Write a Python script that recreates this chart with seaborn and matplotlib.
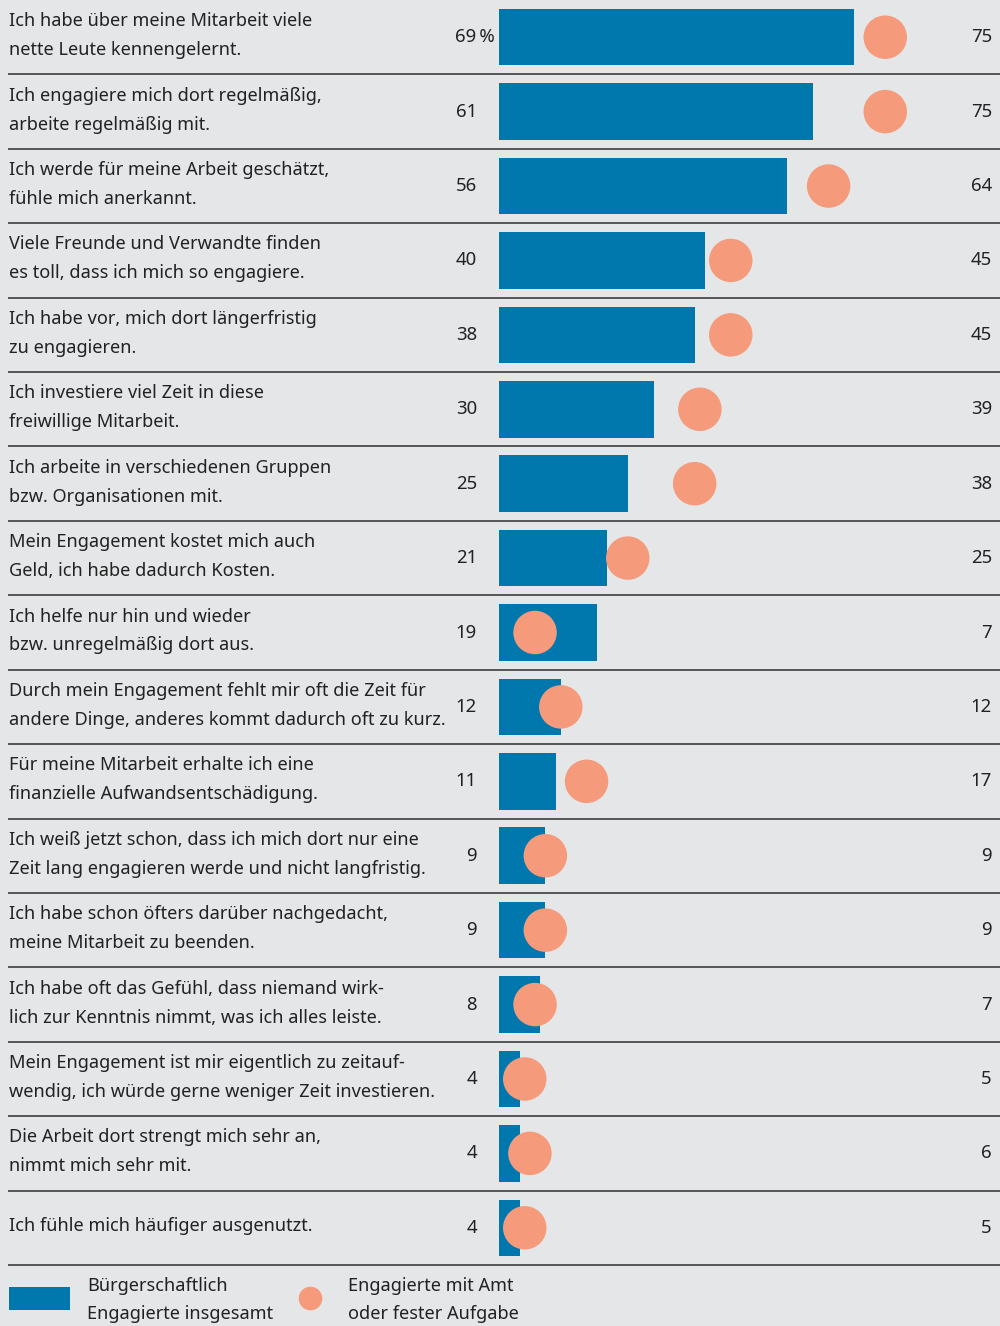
import matplotlib
matplotlib.use("Agg")
import matplotlib.pyplot as plt
import seaborn as sns
import pandas as pd
from matplotlib.patches import Rectangle
from matplotlib.lines import Line2D

labels = [
    "Ich habe über meine Mitarbeit viele\nnette Leute kennengelernt.",
    "Ich engagiere mich dort regelmäßig,\narbeite regelmäßig mit.",
    "Ich werde für meine Arbeit geschätzt,\nfühle mich anerkannt.",
    "Viele Freunde und Verwandte finden\nes toll, dass ich mich so engagiere.",
    "Ich habe vor, mich dort längerfristig\nzu engagieren.",
    "Ich investiere viel Zeit in diese\nfreiwillige Mitarbeit.",
    "Ich arbeite in verschiedenen Gruppen\nbzw. Organisationen mit.",
    "Mein Engagement kostet mich auch\nGeld, ich habe dadurch Kosten.",
    "Ich helfe nur hin und wieder\nbzw. unregelmäßig dort aus.",
    "Durch mein Engagement fehlt mir oft die Zeit für\nandere Dinge, anderes kommt dadurch oft zu kurz.",
    "Für meine Mitarbeit erhalte ich eine\nfinanzielle Aufwandsentschädigung.",
    "Ich weiß jetzt schon, dass ich mich dort nur eine\nZeit lang engagieren werde und nicht langfristig.",
    "Ich habe schon öfters darüber nachgedacht,\nmeine Mitarbeit zu beenden.",
    "Ich habe oft das Gefühl, dass niemand wirk-\nlich zur Kenntnis nimmt, was ich alles leiste.",
    "Mein Engagement ist mir eigentlich zu zeitauf-\nwendig, ich würde gerne weniger Zeit investieren.",
    "Die Arbeit dort strengt mich sehr an,\nnimmt mich sehr mit.",
    "Ich fühle mich häufiger ausgenutzt.",
]
total = [69, 61, 56, 40, 38, 30, 25, 21, 19, 12, 11, 9, 9, 8, 4, 4, 4]
amt = [75, 75, 64, 45, 45, 39, 38, 25, 7, 12, 17, 9, 9, 7, 5, 6, 5]
legend_labels = ["Bürgerschaftlich\nEngagierte insgesamt", "Engagierte mit Amt\noder fester Aufgabe"]

BG = "#e5e6e8"
BLUE = "#0077ad"
SALMON = "#f59a7b"
TXT = "#222222"
FONT = ["Noto Sans", "DejaVu Sans"]
FS = 13.1
FSN = 13.4
LS = 1.78

W, H = 1000, 1326
fig = plt.figure(figsize=(W / 100, H / 100), dpi=100, facecolor=BG)
plt.rcParams["font.family"] = FONT

top_h = 1265
ax = fig.add_axes([0, (H - top_h) / H, 1, top_h / H])
ax.set_facecolor(BG)

n = len(labels)
df = pd.DataFrame({"item": labels, "total": total, "amt": amt, "pos": list(range(n))})

scale = 5.15  # px per unit
x0 = 499
xl = -x0 / scale
xr = (W - x0) / scale

sns.barplot(data=df, x="total", y="item", order=labels, orient="h", color=BLUE,
            width=0.76, saturation=1, ax=ax, linewidth=0)
sns.scatterplot(data=df, x="amt", y="pos", color=SALMON, s=980, edgecolor="none",
                linewidth=0, ax=ax, zorder=5, legend=False)

ax.set_xlim(xl, xr)
ax.set_ylim(n - 0.5, -0.5)
ax.set_xticks([])
ax.set_yticks([])
ax.set_xlabel("")
ax.set_ylabel("")
for s in ax.spines.values():
    s.set_visible(False)

def px(x):
    return xl + x / scale

for i in range(n):
    ax.text(px(9), i - 0.02, labels[i], ha="left", va="center", fontsize=FS, color=TXT,
            linespacing=LS, family=FONT)
    lab = f"{total[i]}\u202f%" if i == 0 else f"{total[i]}"
    xr_lab = 495 if i == 0 else 477
    ax.text(px(xr_lab), i, lab, ha="right", va="center", fontsize=FSN, color=TXT, family=FONT)
    ax.text(px(992), i, f"{amt[i]}", ha="right", va="center", fontsize=FSN, color=TXT, family=FONT)
    ax.plot([px(8), px(1000)], [i + 0.5, i + 0.5], color="#555555", lw=1.4,
            solid_capstyle="butt", clip_on=False, zorder=6)

# legend
fig.add_artist(Rectangle((9 / W, 1 - 1310 / H), 61 / W, 23 / H, transform=fig.transFigure,
                         facecolor=BLUE, edgecolor="none"))
fig.add_artist(Line2D([310 / W], [1 - 1298 / H], transform=fig.transFigure, marker="o",
                      markersize=17, color=SALMON, markeredgewidth=0, linestyle="none"))
fig.text(87 / W, 1 - 1300 / H, legend_labels[0], ha="left", va="center", fontsize=FS,
         color=TXT, linespacing=LS, family=FONT)
fig.text(348 / W, 1 - 1300 / H, legend_labels[1], ha="left", va="center", fontsize=FS,
         color=TXT, linespacing=LS, family=FONT)

fig.savefig("out.png", dpi=100, facecolor=BG)
